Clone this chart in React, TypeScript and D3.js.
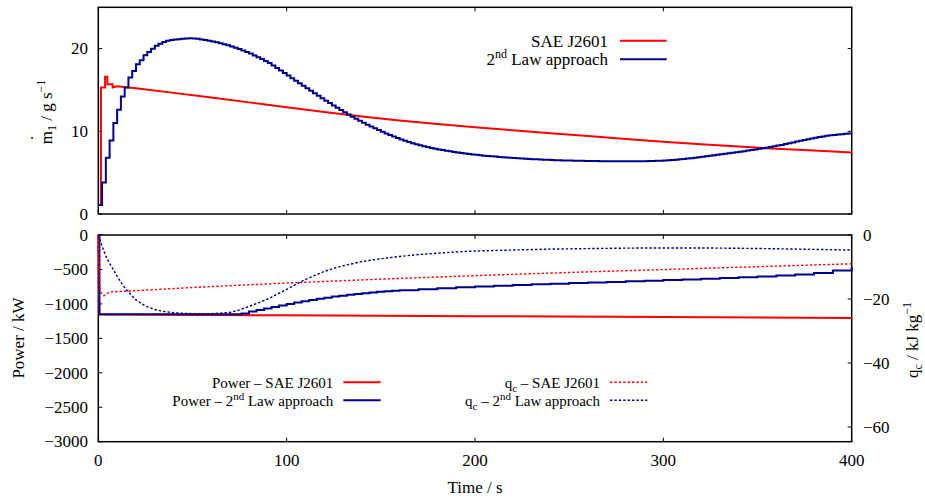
import React from "react";
import * as d3 from "d3";

// ---- Mass flow, top panel (g/s) ----
// SAE J2601 mass flow: [time s, value]
const mdotSaeTimes = [0, 1.4, 1.4, 3.6, 3.6, 4.8, 4.8, 7.6, 7.6, 10, 20, 40, 60, 80, 100, 120, 140, 160, 180, 200, 220, 240, 260, 280, 300, 320, 340, 360, 380, 400];
const mdotSaeValues = [1.1, 1.1, 15.3, 15.3, 16.6, 16.6, 15.7, 15.7, 15.3, 15.45, 15.2, 14.65, 14.1, 13.5, 12.9, 12.35, 11.8, 11.3, 10.88, 10.5, 10.12, 9.77, 9.42, 9.07, 8.73, 8.43, 8.15, 7.9, 7.67, 7.45];

// 2nd law approach mass flow, sampled every 2 s from 0 to 400 s
const mdotLawStep = 2;
const mdotLawValues = [
  1.1, 3.8, 6.8, 8.9, 11.0, 12.6, 14.2, 15.3, 16.5, 17.3,
  18.1, 18.6, 19.2, 19.6, 20.0, 20.35, 20.6, 20.8, 20.95, 21.05,
  21.10, 21.15, 21.20, 21.24, 21.26, 21.24, 21.19, 21.12, 21.04, 20.96,
  20.87, 20.77, 20.66, 20.54, 20.41, 20.27, 20.12, 19.95, 19.78, 19.60,
  19.40, 19.18, 18.96, 18.74, 18.52, 18.25, 17.96, 17.66, 17.36, 17.05,
  16.74, 16.43, 16.12, 15.81, 15.50, 15.20, 14.90, 14.60, 14.30, 14.00,
  13.71, 13.42, 13.13, 12.85, 12.57, 12.30, 12.03, 11.77, 11.52, 11.27,
  11.03, 10.80, 10.58, 10.36, 10.15, 9.95, 9.75, 9.56, 9.37, 9.19,
  9.02, 8.86, 8.71, 8.57, 8.44, 8.32, 8.20, 8.09, 7.99, 7.90,
  7.81, 7.73, 7.65, 7.58, 7.51, 7.44, 7.38, 7.32, 7.26, 7.21,
  7.16, 7.11, 7.06, 7.02, 6.98, 6.94, 6.90, 6.86, 6.83, 6.80,
  6.77, 6.74, 6.71, 6.68, 6.66, 6.63, 6.61, 6.59, 6.57, 6.55,
  6.53, 6.51, 6.50, 6.48, 6.47, 6.46, 6.45, 6.44, 6.43, 6.42,
  6.41, 6.40, 6.40, 6.39, 6.39, 6.38, 6.38, 6.38, 6.37, 6.37,
  6.37, 6.37, 6.37, 6.37, 6.38, 6.39, 6.40, 6.41, 6.43, 6.45,
  6.47, 6.50, 6.53, 6.57, 6.61, 6.65, 6.70, 6.75, 6.80, 6.86,
  6.92, 6.98, 7.04, 7.10, 7.16, 7.22, 7.28, 7.34, 7.40, 7.47,
  7.53, 7.60, 7.67, 7.74, 7.81, 7.88, 7.95, 8.02, 8.10, 8.18,
  8.27, 8.36, 8.46, 8.56, 8.66, 8.76, 8.86, 8.96, 9.05, 9.14,
  9.22, 9.30, 9.38, 9.45, 9.51, 9.57, 9.62, 9.66, 9.70, 9.73,
  9.75,
];

// ---- Power (kW), bottom panel, left axis ----
const powerSaeTimes = [0, 0.5, 100, 200, 300, 400];
const powerSaeValues = [0, -1155, -1165, -1178, -1190, -1203];

const powerLawTimes = [0, 0.6, 72, 76, 80, 84, 88, 92, 96, 100, 104, 108, 112, 116, 120, 124, 128, 132, 136, 140, 144, 148, 152, 156, 160, 170, 180, 190, 200, 210, 220, 230, 240, 250, 260, 270, 280, 290, 300, 310, 320, 330, 340, 350, 360, 370, 380, 390, 400];
const powerLawValues = [0, -1150, -1150, -1138, -1112, -1088, -1066, -1044, -1022, -1000, -980, -960, -942, -925, -909, -894, -880, -867, -855, -844, -834, -825, -817, -809, -802, -786, -772, -759, -747, -736, -726, -716, -707, -698, -690, -681, -672, -663, -654, -645, -635, -625, -614, -602, -588, -572, -550, -515, -465];

// ---- Specific heat q_c (kJ/kg), bottom panel, right axis ----
const qcSaeTimes = [0, 1, 3, 6, 20, 50, 100, 150, 200, 250, 300, 350, 400];
const qcSaeValues = [0, -17.8, -19.0, -17.8, -17.4, -16.4, -15.0, -13.8, -12.7, -11.7, -10.8, -9.9, -9.0];

const qcLawTimes = [0, 2, 4, 6, 8, 10, 12, 15, 20, 25, 30, 35, 40, 50, 60, 70, 75, 80, 85, 90, 95, 100, 105, 110, 115, 120, 125, 130, 140, 150, 160, 170, 180, 190, 200, 220, 240, 260, 280, 300, 320, 340, 360, 380, 400];
const qcLawValues = [0, -3.5, -6.6, -8.9, -10.8, -12.9, -14.8, -17.2, -20.3, -22.2, -23.3, -23.9, -24.3, -24.6, -24.6, -24.2, -23.4, -22.3, -21.2, -20.0, -18.5, -17.0, -15.4, -13.9, -12.6, -11.4, -10.4, -9.6, -8.3, -7.4, -6.7, -6.1, -5.7, -5.3, -5.0, -4.7, -4.4, -4.25, -4.1, -4.05, -4.05, -4.15, -4.3, -4.5, -4.7];

// ---- Axis ticks ----
const timeTicks = [0, 100, 200, 300, 400];
const mdotTicks = [0, 10, 20];
const powerTicks = [0, -500, -1000, -1500, -2000, -2500, -3000];
const qcTicks = [0, -20, -40, -60];

const RED = "#ff0000";
const NAVY = "#00008e";
const FONT = "Liberation Serif, DejaVu Serif, serif";

const fmt = (v: number) => (v < 0 ? "\u2212" + Math.abs(v) : String(v));

type Pt = [number, number];
const zip = (ts: number[], vs: number[]): Pt[] => ts.map((t, i) => [t, vs[i]]);

export default function App() {
  const left = 98.3;
  const right = 851.7;
  const top1 = 7.3;
  const bottom1 = 214;
  const top2 = 235;
  const bottom2 = 441.7;
  const tick = 4;

  const x = d3.scaleLinear().domain([0, 400]).range([left, right]);
  const yM = d3.scaleLinear().domain([0, 25]).range([bottom1, top1]);
  const yP = d3.scaleLinear().domain([-3000, 0]).range([bottom2, top2]);
  const yQ = d3.scaleLinear().domain([-64.6, 0]).range([bottom2, top2]);

  const lineM = d3.line<Pt>().x((d) => x(d[0])).y((d) => yM(d[1]));
  const stepM = d3.line<Pt>().x((d) => x(d[0])).y((d) => yM(d[1])).curve(d3.curveStepAfter);
  const lineP = d3.line<Pt>().x((d) => x(d[0])).y((d) => yP(d[1]));
  const stepP = d3.line<Pt>().x((d) => x(d[0])).y((d) => yP(d[1])).curve(d3.curveStepAfter);
  const lineQ = d3.line<Pt>().x((d) => x(d[0])).y((d) => yQ(d[1]));

  const mdotLaw: Pt[] = mdotLawValues.map((v, i) => [i * mdotLawStep, v]);

  const textStyle = { style: { fontFamily: FONT, fontSize: "17px", fill: "#000" } };
  const legendStyle = { style: { fontFamily: FONT, fontSize: "15px", fill: "#000" } };
  const small = { fontSize: "12px" };
  const legendSmall = { fontSize: "11px" };
  const frame = { fill: "none", stroke: "#000", strokeWidth: 1.5 } as const;
  const dotted = { fill: "none", strokeWidth: 1.4, strokeDasharray: "2.4,2" };

  return (
    <svg width={925} height={500} style={{ position: "absolute", left: 0, top: 0, background: "#fff", fontFamily: FONT }}>
      <rect x={0} y={0} width={925} height={500} fill="#fff" />

      {/* frames */}
      <rect x={left} y={top1} width={right - left} height={bottom1 - top1} {...frame} />
      <rect x={left} y={top2} width={right - left} height={bottom2 - top2} {...frame} />

      {/* top panel ticks */}
      {mdotTicks.map((v) => (
        <g key={"mt" + v}>
          <line x1={left} x2={left + tick} y1={yM(v)} y2={yM(v)} stroke="#000" strokeWidth={1} />
          <line x1={right} x2={right - tick} y1={yM(v)} y2={yM(v)} stroke="#000" strokeWidth={1} />
          <text x={88} y={yM(v)} dy="0.34em" textAnchor="end" {...textStyle}>{fmt(v)}</text>
        </g>
      ))}
      {timeTicks.map((t) => (
        <g key={"tt" + t}>
          <line x1={x(t)} x2={x(t)} y1={bottom1} y2={bottom1 - tick} stroke="#000" strokeWidth={1} />
          <line x1={x(t)} x2={x(t)} y1={top1} y2={top1 + tick} stroke="#000" strokeWidth={1} />
          <line x1={x(t)} x2={x(t)} y1={bottom2} y2={bottom2 - tick} stroke="#000" strokeWidth={1} />
          <line x1={x(t)} x2={x(t)} y1={top2} y2={top2 + tick} stroke="#000" strokeWidth={1} />
          <text x={x(t)} y={466} textAnchor="middle" {...textStyle}>{t}</text>
        </g>
      ))}

      {/* bottom panel ticks */}
      {powerTicks.map((v) => (
        <g key={"pt" + v}>
          <line x1={left} x2={left + tick} y1={yP(v)} y2={yP(v)} stroke="#000" strokeWidth={1} />
          <text x={88} y={yP(v)} dy="0.34em" textAnchor="end" {...textStyle}>{fmt(v)}</text>
        </g>
      ))}
      {qcTicks.map((v) => (
        <g key={"qt" + v}>
          <line x1={right} x2={right - tick} y1={yQ(v)} y2={yQ(v)} stroke="#000" strokeWidth={1} />
          <text x={863} y={yQ(v)} dy="0.34em" textAnchor="start" {...textStyle}>{fmt(v)}</text>
        </g>
      ))}

      {/* axis titles */}
      <text transform="translate(52,112) rotate(-90)" textAnchor="middle" {...textStyle}>
        <tspan>m</tspan>
        <tspan dx={-8.9} dy={-19}>.</tspan>
        <tspan dx={4.6} dy={23} style={small}>1</tspan>
        <tspan dy={-4}> / g s</tspan>
        <tspan dy={-7} style={small}>{"\u22121"}</tspan>
      </text>
      <text transform="translate(24,338) rotate(-90)" textAnchor="middle" {...textStyle}>Power / kW</text>
      <text transform="translate(918,340) rotate(-90)" textAnchor="middle" {...textStyle}>
        <tspan>q</tspan>
        <tspan dy={4} style={small}>c</tspan>
        <tspan dy={-4}> / kJ kg</tspan>
        <tspan dy={-7} style={small}>{"\u22121"}</tspan>
      </text>
      <text x={475} y={493} textAnchor="middle" {...textStyle}>Time / s</text>

      {/* top panel series */}
      <path d={lineM(zip(mdotSaeTimes, mdotSaeValues)) || ""} fill="none" stroke={RED} strokeWidth={2} />
      <path d={stepM(mdotLaw) || ""} fill="none" stroke={NAVY} strokeWidth={2} />

      {/* bottom panel series */}
      <path d={lineP(zip(powerSaeTimes, powerSaeValues)) || ""} fill="none" stroke={RED} strokeWidth={2} />
      <path d={stepP(zip(powerLawTimes, powerLawValues)) || ""} fill="none" stroke={NAVY} strokeWidth={2} />
      <path d={lineQ(zip(qcSaeTimes, qcSaeValues)) || ""} stroke={RED} {...dotted} />
      <path d={lineQ(zip(qcLawTimes, qcLawValues)) || ""} stroke={NAVY} {...dotted} />

      {/* top legend */}
      <text x={608} y={46.5} textAnchor="end" {...textStyle}>SAE J2601</text>
      <line x1={620} x2={666.7} y1={40.7} y2={40.7} stroke={RED} strokeWidth={2} />
      <text x={608} y={65.3} textAnchor="end" {...textStyle}>
        <tspan>2</tspan>
        <tspan dy={-7} style={small}>nd</tspan>
        <tspan dy={7}> Law approach</tspan>
      </text>
      <line x1={620} x2={666.7} y1={59.3} y2={59.3} stroke={NAVY} strokeWidth={2} />

      {/* bottom legends */}
      <text x={333.3} y={387.5} textAnchor="end" {...legendStyle}>{"Power \u2013 SAE J2601"}</text>
      <line x1={343.3} x2={380.7} y1={382.3} y2={382.3} stroke={RED} strokeWidth={2} />
      <text x={333.3} y={405.5} textAnchor="end" {...legendStyle}>
        <tspan>{"Power \u2013 2"}</tspan>
        <tspan dy={-6} style={legendSmall}>nd</tspan>
        <tspan dy={6}> Law approach</tspan>
      </text>
      <line x1={343.3} x2={380.7} y1={400.3} y2={400.3} stroke={NAVY} strokeWidth={2} />

      <text x={600} y={387.5} textAnchor="end" {...legendStyle}>
        <tspan>q</tspan>
        <tspan dy={4} style={legendSmall}>c</tspan>
        <tspan dy={-4}>{" \u2013 SAE J2601"}</tspan>
      </text>
      <line x1={610} x2={647.3} y1={382.3} y2={382.3} stroke={RED} {...dotted} />
      <text x={600} y={405.5} textAnchor="end" {...legendStyle}>
        <tspan>q</tspan>
        <tspan dy={4} style={legendSmall}>c</tspan>
        <tspan dy={-4}>{" \u2013 2"}</tspan>
        <tspan dy={-6} style={legendSmall}>nd</tspan>
        <tspan dy={6}> Law approach</tspan>
      </text>
      <line x1={610} x2={647.3} y1={400.3} y2={400.3} stroke={NAVY} {...dotted} />
    </svg>
  );
}
